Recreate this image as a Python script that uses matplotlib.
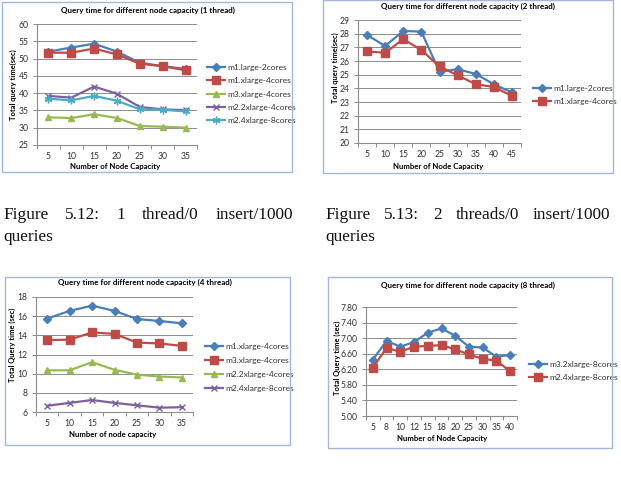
import matplotlib
matplotlib.use("Agg")
import matplotlib.pyplot as plt
from matplotlib.patches import Rectangle

W, H = 621, 482
DPI = 100

# ---------------- data ----------------
# Chart 1 : 1 thread
x1 = [5, 10, 15, 20, 25, 30, 35]
c1_names = ["m1.large-2cores", "m1.xlarge-4cores", "m3.xlarge-4cores",
            "m2.2xlarge-4cores", "m2.4xlarge-8cores"]
c1_m1_large = [52.0, 53.2, 54.3, 52.0, 48.8, 47.8, 47.0]
c1_m1_xlarge = [51.7, 51.7, 52.9, 51.2, 48.5, 47.8, 46.6]
c1_m3_xlarge = [33.0, 32.8, 33.9, 32.8, 30.5, 30.3, 30.0]
c1_m2_2xlarge = [39.2, 38.7, 41.9, 39.8, 36.0, 35.3, 35.1]
c1_m2_4xlarge = [38.4, 37.9, 39.2, 37.8, 35.3, 35.2, 34.7]

# Chart 2 : 2 threads
x2 = [5, 10, 15, 20, 25, 30, 35, 40, 45]
c2_names = ["m1.large-2cores", "m1.xlarge-4cores"]
c2_m1_large = [27.9, 27.1, 28.2, 28.15, 25.2, 25.4, 25.05, 24.3, 23.7]
c2_m1_xlarge = [26.7, 26.6, 27.6, 26.8, 25.6, 24.95, 24.3, 24.1, 23.45]

# Chart 3 : 4 threads
x3 = [5, 10, 15, 20, 25, 30, 35]
c3_names = ["m1.xlarge-4cores", "m3.xlarge-4cores", "m2.2xlarge-4cores",
            "m2.4xlarge-8cores"]
c3_m1_xlarge = [15.75, 16.55, 17.1, 16.55, 15.7, 15.5, 15.25]
c3_m3_xlarge = [13.5, 13.55, 14.3, 14.15, 13.25, 13.15, 12.9]
c3_m2_2xlarge = [10.35, 10.35, 11.2, 10.4, 9.9, 9.7, 9.6]
c3_m2_4xlarge = [6.65, 6.95, 7.25, 6.95, 6.7, 6.45, 6.5]

# Chart 4 : 8 threads
x4 = [5, 8, 10, 12, 15, 18, 20, 25, 30, 35, 40]
c4_names = ["m3.2xlarge-8cores", "m2.4xlarge-8cores"]
c4_m3_2xlarge = [6.45, 6.93, 6.78, 6.9, 7.14, 7.25, 7.06, 6.78, 6.76, 6.52, 6.57]
c4_m2_4xlarge = [6.24, 6.75, 6.65, 6.78, 6.8, 6.82, 6.71, 6.58, 6.47, 6.42, 6.15]

captions = [
    ["Figure", "5.12:", "1", "thread/0", "insert/1000"],
    ["Figure", "5.13:", "2", "threads/0", "insert/1000"],
]
caption_tail = "queries"

# ---------------- styles ----------------
BLUE = "#4A7EBB"
RED = "#BE4B48"
GREEN = "#98B954"
PURPLE = "#7D60A0"
CYAN = "#4BACC6"
ASTER = (6, 2, 0)
STY = {
    "blue": dict(color=BLUE, marker="D", ms=3.8),
    "red": dict(color=RED, marker="s", ms=5.4),
    "green": dict(color=GREEN, marker="^", ms=5),
    "purple": dict(color=PURPLE, marker="x", ms=5, mew=1),
    "cyan": dict(color=CYAN, marker=ASTER, ms=5.5, mew=1),
}
CF = "Lato"
GRID = "#8C8C8C"
TXT = "#333333"

fig = plt.figure(figsize=(W / DPI, H / DPI), dpi=DPI)
fig.patch.set_facecolor("white")


def fx(x):
    return x / W


def fy(y):
    return 1 - y / H


def box(l, t, r, b):
    fig.patches.append(Rectangle((fx(l), fy(b)), fx(r - l), (b - t) / H,
                                 transform=fig.transFigure, fill=False,
                                 edgecolor="#A3B8D8", lw=1.0, zorder=0))


LEGFS = 6.0


def chart(rect, xs, series, ylim, yticks, yfmt, title, tpos, ylabel, ylpos,
          xlabel, xlpos, leg):
    l, t, r, b = rect
    ax = fig.add_axes([fx(l), fy(b), fx(r - l), (b - t) / H])
    idx = list(range(len(xs)))
    handles = []
    for name, vals, sty in series:
        h, = ax.plot(idx, vals, lw=1.6, label=name, zorder=3, **STY[sty])
        handles.append(h)
    ax.set_xlim(-0.5, len(xs) - 0.5)
    ax.set_ylim(*ylim)
    ax.set_yticks(yticks)
    ax.set_yticklabels([yfmt.format(v) for v in yticks])
    ax.set_xticks(idx)
    ax.set_xticklabels([str(v) for v in xs])
    ax.set_xticks([i - 0.5 for i in range(len(xs) + 1)], minor=True)
    ax.grid(axis="y", color=GRID, lw=0.7, zorder=0)
    for s in ["top", "right"]:
        ax.spines[s].set_visible(False)
    for s in ["left", "bottom"]:
        ax.spines[s].set_color(GRID)
        ax.spines[s].set_linewidth(0.8)
    ax.tick_params(axis="x", which="major", length=0, pad=5,
                   labelsize=6.2, labelcolor=TXT)
    ax.tick_params(axis="x", which="minor", length=3, color=GRID, width=0.7)
    ax.tick_params(axis="y", length=3, color=GRID, width=0.7, pad=3,
                   labelsize=6.2, labelcolor=TXT)
    for lab in ax.get_xticklabels() + ax.get_yticklabels():
        lab.set_fontfamily(CF)
    ax.patch.set_alpha(0)
    fig.text(fx(tpos[0]), fy(tpos[1]), title, ha="center", va="center",
             fontsize=5.8, fontweight="bold", family=CF)
    fig.text(fx(ylpos[0]), fy(ylpos[1]), ylabel, ha="center", va="center",
             rotation=90, fontsize=5.4, fontweight="bold", family=CF)
    fig.text(fx(xlpos[0]), fy(xlpos[1]), xlabel, ha="center", va="center",
             fontsize=5.6, fontweight="bold", family=CF)
    lx, ly, sp = leg
    ax.legend(handles=handles, loc="upper left",
              bbox_to_anchor=(fx(lx), fy(ly)), bbox_transform=fig.transFigure,
              frameon=False, handlelength=2.2, handletextpad=0.25,
              labelspacing=(sp / (LEGFS * DPI / 72)) - 1.0,
              borderaxespad=0, borderpad=0,
              prop={"family": CF, "size": LEGFS}, labelcolor=TXT)
    return ax


# boxes
box(2, 2, 292, 172)
box(323, 0, 613, 173)
box(5, 277, 290, 445)
box(328, 277, 612, 448)

chart((37, 24, 197, 145), x1,
      [(c1_names[0], c1_m1_large, "blue"), (c1_names[1], c1_m1_xlarge, "red"),
       (c1_names[2], c1_m3_xlarge, "green"),
       (c1_names[3], c1_m2_2xlarge, "purple"),
       (c1_names[4], c1_m2_4xlarge, "cyan")],
      (25, 60), list(range(25, 61, 5)), "{:d}",
      "Query time for different node capacity (1 thread)", (148, 10),
      "Total query time(sec)", (13, 85),
      "Number of Node Capacity", (115, 167), (207, 64, 14.6))

chart((358, 20, 521, 143), x2,
      [(c2_names[0], c2_m1_large, "blue"), (c2_names[1], c2_m1_xlarge, "red")],
      (20, 29), list(range(20, 30)), "{:d}",
      "Query time for different node capacity (2 thread)", (468, 6),
      "Total query time(sec)", (335, 68),
      "Number of Node Capacity", (438, 166), (533, 85, 14.5))

chart((36, 297, 193, 412), x3,
      [(c3_names[0], c3_m1_xlarge, "blue"), (c3_names[1], c3_m3_xlarge, "red"),
       (c3_names[2], c3_m2_2xlarge, "green"),
       (c3_names[3], c3_m2_4xlarge, "purple")],
      (6, 18), list(range(6, 19, 2)), "{:d}",
      "Query time for different node capacity (4 thread)", (145, 282),
      "Total Query time (sec)", (12, 345),
      "Number of node capacity", (113, 435), (205, 343, 15.2))

chart((366, 307, 517, 416), x4,
      [(c4_names[0], c4_m3_2xlarge, "blue"), (c4_names[1], c4_m2_4xlarge, "red")],
      (5.0, 7.8), [5.0, 5.4, 5.8, 6.2, 6.6, 7.0, 7.4, 7.8], "{:.2f}",
      "Query time for different node capacity (8 thread)", (468, 285),
      "Total Query time (sec)", (337, 358),
      "Number of Node Capacity", (442, 439), (529, 361, 14.5))

# captions: justified first line, words spread between left and right edges
CAPFS = 12.4
spans = [(3, 293), (325, 610)]
fig.canvas.draw()
renderer = fig.canvas.get_renderer()
for words, (x0, x1r) in zip(captions, spans):
    texts = [fig.text(0, fy(215), w, ha="left", va="center", fontsize=CAPFS,
                      family="Liberation Serif", color="#111111")
             for w in words]
    widths = [t.get_window_extent(renderer).width for t in texts]
    gap = (x1r - x0 - sum(widths)) / (len(words) - 1)
    x = x0
    for t, w in zip(texts, widths):
        t.set_x(fx(x))
        x += w + gap
    fig.text(fx(x0), fy(237), caption_tail, ha="left", va="center",
             fontsize=CAPFS, family="Liberation Serif", color="#111111")

fig.savefig("out.png", dpi=DPI)
